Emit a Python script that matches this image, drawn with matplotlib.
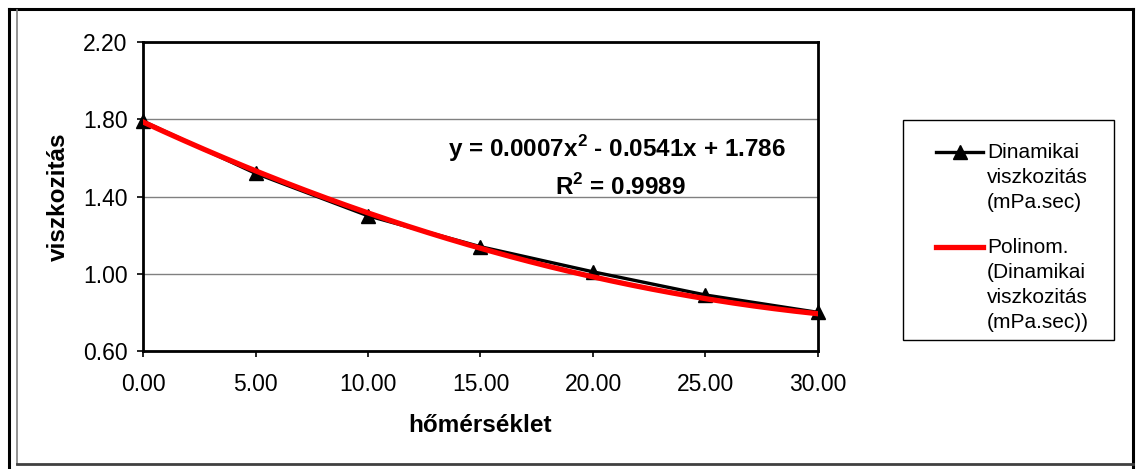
import matplotlib.pyplot as plt
from matplotlib.lines import Line2D
from matplotlib.patches import Rectangle
import numpy as np

plt.rcParams['font.family'] = ['Liberation Sans', 'DejaVu Sans']
plt.rcParams['mathtext.fontset'] = 'custom'
plt.rcParams['mathtext.bf'] = 'Liberation Sans:bold'
plt.rcParams['mathtext.rm'] = 'Liberation Sans'

# temperature (°C) and dynamic viscosity (mPa.s)
homerseklet = [0, 5, 10, 15, 20, 25, 30]
viszkozitas = [1.79, 1.52, 1.30, 1.14, 1.01, 0.89, 0.80]
# second order trend line: a*x^2 + b*x + c
poly = [0.0007, -0.0541, 1.786]
r2 = 0.9989
labels = ['Dinamikai\nviszkozitás\n(mPa.sec)',
          'Polinom.\n(Dinamikai\nviszkozitás\n(mPa.sec))']

W, H = 1143, 469
FS_TICK = 16.5
FS_BOLD = 17.5
FS_LEG = 15
fig = plt.figure(figsize=(W / 100, H / 100), dpi=100)
ax = fig.add_axes([143 / W, 1 - 351 / H, (818 - 143) / W, (351 - 42) / H])

xs = np.linspace(0, 30, 200)
ys = np.polyval(poly, xs)

ax.plot(homerseklet, viszkozitas, color='black', lw=2.4, marker='^', ms=10.5,
        zorder=3, clip_on=False)
ax.plot(xs, ys, color='#ff0000', lw=3.8, zorder=4)

ax.set_xlim(0, 30)
ax.set_ylim(0.6, 2.2)
ax.set_xticks(np.arange(0, 31, 5))
ax.set_yticks(np.arange(0.6, 2.21, 0.4))
ax.xaxis.set_major_formatter(plt.FuncFormatter(lambda v, p: f'{v:.2f}'))
ax.yaxis.set_major_formatter(plt.FuncFormatter(lambda v, p: f'{v:.2f}'))
ax.tick_params(labelsize=FS_TICK, length=4, width=1.2, direction='out')
ax.tick_params(axis='x', pad=12)
ax.tick_params(axis='y', pad=7)
ax.grid(axis='y', color='#808080', lw=1)
ax.set_axisbelow(True)
for s in ax.spines.values():
    s.set_linewidth(2)

def ptext(x, y, s, **kw):
    fig.text(x, H - y, s, transform=None, **kw)

ptext(480, 432, 'hőmérséklet', fontsize=FS_BOLD, fontweight='bold',
      ha='center', va='baseline')
ptext(65, 197, 'viszkozitás', fontsize=FS_BOLD, fontweight='bold', rotation=90,
      rotation_mode='anchor', ha='center', va='baseline')

a, b, c = poly
ptext(617, 157, rf'y = {a:.4f}x$^\mathbf{{2}}$ - {-b:.4f}x + {c:.3f}',
      fontsize=FS_BOLD, fontweight='bold', ha='center', va='baseline')
ptext(620, 195, rf'R$^\mathbf{{2}}$ = {r2:.4f}',
      fontsize=FS_BOLD, fontweight='bold', ha='center', va='baseline')

# legend box drawn by hand
def pline(xp, yp, **kw):
    fig.add_artist(Line2D([x / W for x in xp], [1 - y / H for y in yp],
                          transform=fig.transFigure, **kw))

fig.add_artist(Rectangle((903 / W, 1 - 340 / H), (1114 - 903) / W,
                         (340 - 120) / H, transform=fig.transFigure,
                         facecolor='white', edgecolor='black', lw=1))
pline([936, 983], [152, 152], color='black', lw=2.4)
pline([959.5], [152], color='black', marker='^', ms=10.5, lw=0)
pline([936, 983], [247, 247], color='#ff0000', lw=3.8)
line_h = 25
for lab, y0 in zip(labels, [152, 247]):
    for i, ln in enumerate(lab.split('\n')):
        ptext(987, y0 + i * line_h, ln, fontsize=FS_LEG, ha='left', va='center')

# chart frame
pline([9, 9], [9.5, 469], color='black', lw=2.2)
pline([9, 1133], [9.5, 9.5], color='black', lw=2.2)
pline([1133, 1133], [9.5, 469], color='black', lw=2.2)
pline([17, 17], [10, 464], color='#808080', lw=1.2)
pline([17, 1133], [464, 464], color='#404040', lw=2)

fig.savefig('out.png', dpi=100)
